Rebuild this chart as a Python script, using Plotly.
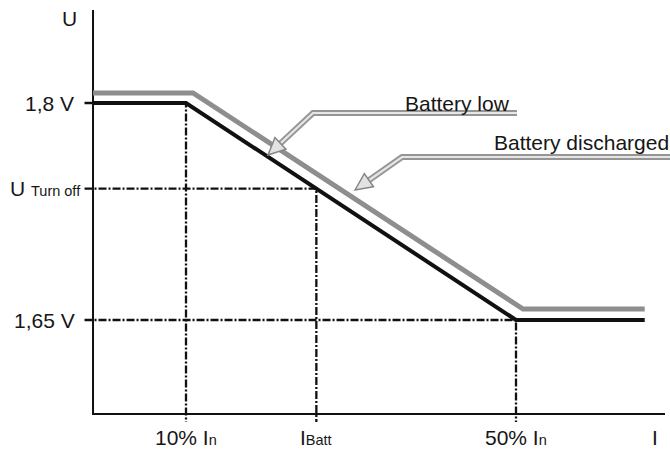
import plotly.graph_objects as go

W, H = 670, 454

# Current in % of nominal current I_n, voltage in V
upper_i = [-1.27, 10.85, 50.85, 65.6]
upper_u = [1.807, 1.807, 1.6576, 1.6576]
lower_i = [-1.27, 10.0, 50.0, 65.6]
lower_u = [1.80, 1.80, 1.65, 1.65]

i_batt = 25.8
u_turn_off = lower_u[1] + (i_batt - lower_i[1]) / (lower_i[2] - lower_i[1]) * (lower_u[2] - lower_u[1])

x_tick_vals = [10.0, i_batt, 50.0]
x_tick_text = [
    "10% I<span style='font-size:14.5px'>n</span>",
    "I<span style='font-size:14.5px'>Batt</span>",
    "50% I<span style='font-size:14.5px'>n</span>",
]
y_tick_vals = [1.80, u_turn_off, 1.65]
y_tick_text = [
    "1,8 V",
    "U <span style='font-size:14.5px'>Turn off</span>",
    "1,65 V",
]

# axis extents
X0, X1 = -1.27, 68.06
Y0, Y1 = 1.585, 1.8643
DASH_X0 = -2.3      # dash-dot guides start just left of the U axis
DASH_Y0 = 1.5795    # and run just below the I axis

XR = [-12.545, 68.667]
YR = [1.55738, 1.87120]

FONT = "Liberation Sans, Arial, Helvetica, sans-serif"
INK = "#161616"


def to_px(x, u):
    return ((x - XR[0]) / (XR[1] - XR[0]) * W, (YR[1] - u) / (YR[1] - YR[0]) * H)


def to_data(px, py):
    return (XR[0] + px / W * (XR[1] - XR[0]), YR[1] - py / H * (YR[1] - YR[0]))


fig = go.Figure()

# dash-dot guide lines
for xv, yv in zip(x_tick_vals, y_tick_vals):
    fig.add_trace(go.Scatter(
        x=[DASH_X0, xv, xv], y=[yv, yv, DASH_Y0], mode="lines",
        line=dict(color="#111", width=2.3, dash="8px,2px,2px,2px"),
        hoverinfo="skip"))

# axes
fig.add_trace(go.Scatter(x=[X0, X0, X1], y=[Y1, Y0, Y0], mode="lines",
                         line=dict(color="#111", width=2), hoverinfo="skip"))

# characteristics
fig.add_trace(go.Scatter(x=upper_i, y=upper_u, mode="lines",
                         line=dict(color="#8e8e8e", width=5), hoverinfo="skip"))
fig.add_trace(go.Scatter(x=lower_i, y=lower_u, mode="lines",
                         line=dict(color="#111", width=4), hoverinfo="skip"))

shapes = []
annotations = []


def add_arrow(points_px, head_len=17, head_half=8):
    (ex, ey), (bx, by), (tx, ty) = points_px
    dx, dy = tx - bx, ty - by
    n = (dx * dx + dy * dy) ** 0.5
    ux, uy = dx / n, dy / n
    basex, basey = tx - ux * head_len, ty - uy * head_len
    lx, ly = basex - uy * head_half, basey + ux * head_half
    rx, ry = basex + uy * head_half, basey - ux * head_half
    leader = [to_data(ex, ey), to_data(bx, by), to_data(basex, basey)]
    lx_, ly_ = zip(*leader)
    fig.add_trace(go.Scatter(x=lx_, y=ly_, mode="lines",
                             line=dict(color="#959595", width=6), hoverinfo="skip"))
    fig.add_trace(go.Scatter(x=lx_, y=ly_, mode="lines",
                             line=dict(color="#e6e6e6", width=2.2), hoverinfo="skip"))
    pts = [to_data(tx, ty), to_data(lx, ly), to_data(rx, ry)]
    path = "M {} {} L {} {} L {} {} Z".format(*[c for p in pts for c in p])
    shapes.append(dict(type="path", path=path, xref="x", yref="y",
                       fillcolor="#e2e2e2", line=dict(color="#858585", width=1.5),
                       layer="above"))


add_arrow([(517, 113), (313, 113), (268, 155)])
add_arrow([(675, 157), (402, 157), (355, 190)])

annotations.append(dict(text="Battery low", xref="paper", yref="paper",
                        x=457 / W, y=1 - 103 / H, xanchor="center", yanchor="middle",
                        showarrow=False, font=dict(size=21, color=INK, family=FONT)))
annotations.append(dict(text="Battery discharged", xref="paper", yref="paper",
                        x=492 / W, y=1 - 142 / H, xanchor="left", yanchor="middle",
                        showarrow=False, font=dict(size=21, color=INK, family=FONT)))

# axis titles
annotations.append(dict(text="U", xref="paper", yref="paper", x=69 / W, y=1 - 19 / H,
                        xanchor="center", yanchor="middle", showarrow=False,
                        font=dict(size=21, color=INK, family=FONT)))
annotations.append(dict(text="I", xref="paper", yref="paper", x=655 / W, y=1 - 437 / H,
                        xanchor="center", yanchor="middle", showarrow=False,
                        font=dict(size=21, color=INK, family=FONT)))

# tick labels
for xv, txt in zip(x_tick_vals, x_tick_text):
    annotations.append(dict(text=txt, xref="x", yref="paper", x=xv, y=1 - 437 / H,
                            xanchor="center", yanchor="middle", showarrow=False,
                            font=dict(size=21, color=INK, family=FONT)))
y_label_right = [76, 83, 77]
for yv, txt, rpx in zip(y_tick_vals, y_tick_text, y_label_right):
    annotations.append(dict(text=txt, xref="paper", yref="y", x=rpx / W, y=yv,
                            xanchor="right", yanchor="middle", showarrow=False,
                            font=dict(size=21, color=INK, family=FONT)))

fig.update_layout(
    width=W, height=H,
    margin=dict(l=0, r=0, t=0, b=0),
    paper_bgcolor="white", plot_bgcolor="white",
    showlegend=False,
    xaxis=dict(range=XR, visible=False, fixedrange=True),
    yaxis=dict(range=YR, visible=False, fixedrange=True),
    shapes=shapes, annotations=annotations,
)

fig.write_html("out.html")
